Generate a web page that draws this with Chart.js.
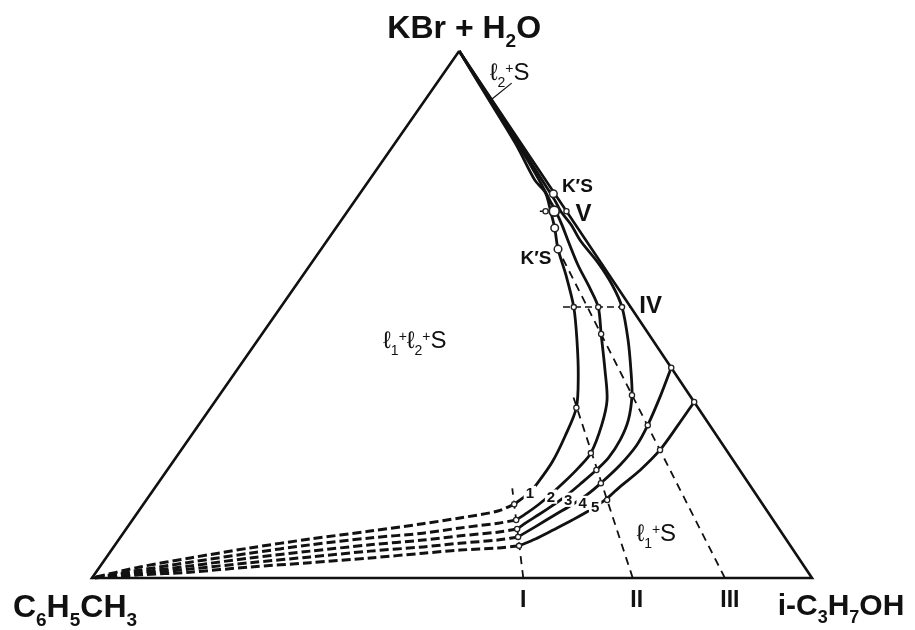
<!DOCTYPE html>
<html>
<head>
<meta charset="utf-8">
<script src="https://cdn.jsdelivr.net/npm/chart.js"></script>
<style>
  body { margin: 0; background: #fff; }
  #wrap { width: 915px; height: 630px; }
</style>
</head>
<body>
<div id="wrap"><canvas id="phase"></canvas></div>
<script>
// every point is a composition [i-C3H7OH %, KBr+H2O %]; toluene is the rest
const SKEW = 0.51; // the apex is drawn a little right of the base midpoint

const triangle = [[0, 100], [0, 0], [100, 0], [0, 100]];

// sections 1..5: solid part (measured) and dashed part (extrapolated to toluene)
const curve1 = [[0, 100], [8.3, 91.3], [17.0, 82.2], [23.0, 75.5], [25.7, 73.1], [28.2, 69.6], [30.4, 66.4],
  [32.9, 62.4], [36.5, 57.5], [40.7, 51.4], [44.3, 45.2], [47.9, 38.5], [50.8, 32.3], [52.0, 26.8],
  [52.7, 22.0], [52.7, 18.0], [52.5, 16.3], [52.1, 15.2], [51.5, 14.0]];
const curve1Dash = [[51.5, 14.0], [49.9, 12.7], [45.3, 11.4], [40.7, 10.3], [34.1, 8.9], [26.5, 7.4],
  [19.0, 5.7], [11.7, 3.8], [5.6, 2.1], [0, 0]];

const curve2 = [[0, 100], [8.5, 91.3], [17.3, 82.2], [23.6, 75.5], [27.0, 71.7], [28.9, 69.6], [31.1, 67.0],
  [33.4, 64.1], [37.2, 59.4], [41.1, 55.0], [44.1, 51.4], [47.1, 46.3], [51.1, 39.5], [54.3, 33.8],
  [56.0, 29.0], [57.2, 23.7], [56.9, 20.9], [56.3, 18.2], [55.6, 15.8], [54.9, 13.9], [54.1, 12.3], [53.3, 11.0]];
const curve2Dash = [[53.3, 11.0], [51.1, 10.4], [46.3, 9.5], [41.6, 8.5], [34.7, 7.6], [27.1, 6.3],
  [19.5, 4.7], [12.1, 3.0], [5.9, 1.5], [0, 0]];

const curve3 = [[0, 100], [8.6, 91.3], [17.5, 82.2], [24.0, 75.5], [27.7, 71.7], [29.6, 69.6], [32.4, 67.0],
  [35.1, 64.1], [39.8, 59.8], [43.9, 55.6], [47.4, 51.4], [51.4, 45.2], [54.7, 39.5], [57.3, 34.7],
  [59.2, 30.0], [60.0, 26.2], [60.1, 22.8], [59.6, 20.5], [58.7, 17.8], [57.9, 15.6], [56.9, 13.7],
  [55.9, 12.0], [55.0, 10.6], [54.3, 9.3]];
const curve3Dash = [[54.3, 9.3], [51.9, 8.7], [47.1, 8.0], [42.3, 7.2], [35.4, 6.3], [27.7, 5.1],
  [20.0, 3.8], [12.5, 2.3], [6.1, 1.1], [0, 0]];

const curve4 = [[60.1, 39.9], [61.3, 34.7], [62.4, 29.0], [62.8, 25.2], [62.4, 21.4], [61.5, 18.0],
  [60.7, 15.8], [59.6, 13.9], [58.2, 12.0], [56.6, 9.7], [55.2, 7.8]];
const curve4Dash = [[55.2, 7.8], [52.7, 7.2], [47.7, 6.6], [43.0, 5.9], [36.0, 5.1], [28.3, 4.0],
  [20.5, 2.9], [12.7, 1.7], [6.3, 0.8], [0, 0]];

const curve5 = [[66.6, 33.4], [66.6, 29.0], [66.5, 24.3], [65.7, 20.5], [64.5, 17.3], [63.8, 15.0],
  [62.6, 12.9], [61.1, 11.0], [59.4, 9.1], [57.8, 7.4], [56.2, 6.1]];
const curve5Dash = [[56.2, 6.1], [53.5, 5.7], [48.4, 5.3], [43.6, 4.7], [36.7, 3.8], [28.8, 2.9],
  [20.9, 2.1], [13.0, 1.1], [6.4, 0.6], [0, 0]];

// sections I, II, III (constant toluene : i-PrOH ratio)
const rayI = [[59.9, 0], [49.7, 17.0]];
const rayII = [[75.1, 0], [49.0, 34.8]];
const rayIII = [[87.9, 0], [32.9, 62.4]];

// tie lines IV and V
const tieIV = [[39.2, 51.4], [48.6, 51.4]];
const tieV = [[26.7, 69.6], [30.4, 69.6]];
const leader = [[10.4, 93.9], [9.2, 90.9]];

const smallPoints = [
  [51.5, 14.0], [53.3, 11.0], [54.3, 9.3], [55.2, 7.8], [56.2, 6.1],
  [50.8, 32.3], [57.2, 23.7], [59.6, 20.5], [61.5, 18.0], [64.0, 14.8],
  [47.1, 46.3], [57.3, 34.7], [62.4, 29.0], [66.5, 24.3],
  [40.7, 51.4], [44.1, 51.4], [47.4, 51.4],
  [60.1, 39.9], [66.6, 33.4],
  [27.5, 69.6], [30.4, 69.6]
];
const largePoints = [[26.9, 72.9], [30.4, 66.4], [32.9, 62.4]];
const pointV = [[28.7, 69.6]];

const FONT = '"Liberation Sans", Arial, sans-serif';
const bigLabels = [
  { parts: [['KBr + H'], ['2', 'sub'], ['O']], at: [0, 100], dx: 5, dy: -13, size: 32, bold: true },
  { parts: [['C'], ['6', 'sub'], ['H'], ['5', 'sub'], ['CH'], ['3', 'sub']], at: [0, 0], dx: -17, dy: 39, size: 32, bold: true },
  { parts: [['i-C'], ['3', 'sub'], ['H'], ['7', 'sub'], ['OH']], at: [100, 0], dx: 29, dy: 37, size: 30, bold: true },
  { parts: [['I']], at: [59.9, 0], dx: 0, dy: 29, size: 23, bold: true },
  { parts: [['II']], at: [75.1, 0], dx: 4, dy: 29, size: 23, bold: true },
  { parts: [['III']], at: [87.9, 0], dx: 5, dy: 29, size: 23, bold: true },
  { parts: [['IV']], at: [48.6, 51.4], dx: 20, dy: 6, size: 24, bold: true },
  { parts: [['V']], at: [30.4, 69.6], dx: 17, dy: 10, size: 24, bold: true },
  { parts: [['K\u2032S']], at: [26.9, 72.9], dx: 24, dy: -2, size: 19, bold: true },
  { parts: [['K\u2032S']], at: [32.9, 62.4], dx: -22, dy: 15, size: 19, bold: true },
  { parts: [['\u2113'], ['1', 'sub'], ['+', 'sup'], ['\u2113'], ['2', 'sub'], ['+', 'sup'], ['S']], at: [22.6, 43.6], dx: 0, dy: 0, size: 24 },
  { parts: [['\u2113'], ['2', 'sub'], ['+', 'sup'], ['S']], at: [10.4, 93.9], dx: -2, dy: -3, size: 24 },
  { parts: [['\u2113'], ['1', 'sub'], ['+', 'sup'], ['S']], at: [74.8, 7.0], dx: 0, dy: 0, size: 24 }
];
// numbers sit on the curves and cut a gap into them
const curveNumbers = ['1', '2', '3', '4', '5'];
const numberAt = [[52.5, 16.3], [55.8, 15.6], [58.5, 15.0], [60.8, 14.4], [62.9, 13.7]];

const toXY = ([p, k]) => ({ x: p + SKEW * k, y: k });

function line(data, width, dash, order, tension) {
  return {
    data: data.map(toXY), showLine: true, borderColor: '#111', borderWidth: width,
    borderDash: dash || [], pointRadius: 0, tension: tension || 0, clip: false, order: order
  };
}
function marks(data, r, bw) {
  return {
    data: data.map(toXY), showLine: false, pointRadius: r, pointBorderWidth: bw,
    pointBackgroundColor: '#fff', pointBorderColor: '#222', clip: false, order: 0
  };
}

function drawRich(ctx, parts, x, y, size, bold, boxed) {
  const font = s => `${bold ? 'bold' : 'normal'} ${s}px ${FONT}`;
  let w = 0;
  const runs = parts.map(([t, m]) => {
    const s = m ? Math.round(size * 0.6) : size;
    ctx.font = font(s);
    const rw = ctx.measureText(t).width;
    w += rw;
    return { t, s, w: rw, off: m === 'sub' ? size * 0.28 : m === 'sup' ? -size * 0.3 : 0 };
  });
  let cx = x - w / 2;
  if (boxed) {
    ctx.fillStyle = '#fff';
    ctx.fillRect(cx - 2, y - size * 0.82, w + 4, size * 0.95);
  }
  ctx.fillStyle = '#111';
  runs.forEach(r => {
    ctx.font = font(r.s);
    ctx.fillText(r.t, cx, y + r.off);
    cx += r.w;
  });
}

const textPlugin = {
  id: 'ternaryText',
  afterDatasetsDraw(chart) {
    const { ctx, scales } = chart;
    const px = c => { const q = toXY(c); return [scales.x.getPixelForValue(q.x), scales.y.getPixelForValue(q.y)]; };
    ctx.save();
    ctx.textAlign = 'left';
    ctx.textBaseline = 'alphabetic';
    bigLabels.forEach(l => {
      const [x, y] = px(l.at);
      drawRich(ctx, l.parts, x + l.dx, y + l.dy, l.size, l.bold, false);
    });
    curveNumbers.forEach((n, i) => {
      const [x, y] = px(numberAt[i]);
      drawRich(ctx, [[n]], x, y + 6, 15, true, true);
    });
    ctx.restore();
  }
};

const SMOOTH = 0.3;
new Chart(document.getElementById('phase'), {
  type: 'scatter',
  data: {
    datasets: [
      marks(smallPoints, 2.6, 1.3),
      marks(largePoints, 3.8, 1.5),
      marks(pointV, 5, 1.8),
      line(triangle, 2.6, null, 2),
      line(curve1, 2.8, null, 2, SMOOTH),
      line(curve2, 2.8, null, 2, SMOOTH),
      line(curve3, 2.8, null, 2, SMOOTH),
      line(curve4, 2.8, null, 2, SMOOTH),
      line(curve5, 2.8, null, 2, SMOOTH),
      line(curve1Dash, 3, [9, 4], 3, SMOOTH),
      line(curve2Dash, 3, [9, 4], 3, SMOOTH),
      line(curve3Dash, 3, [9, 4], 3, SMOOTH),
      line(curve4Dash, 3, [9, 4], 3, SMOOTH),
      line(curve5Dash, 3, [9, 4], 3, SMOOTH),
      line(rayI, 1.8, [8, 6], 4),
      line(rayII, 1.8, [8, 6], 4),
      line(rayIII, 1.8, [8, 6], 4),
      line(tieIV, 1.5, [7, 4], 4),
      line(tieV, 1.5, [5, 3], 4),
      line(leader, 1.2, null, 4)
    ]
  },
  options: {
    responsive: true,
    maintainAspectRatio: false,
    animation: false,
    events: [],
    layout: { padding: { left: 92, right: 103, top: 51, bottom: 52 } },
    elements: { line: { capBezierPoints: false, borderJoinStyle: 'miter' } },
    scales: {
      x: { type: 'linear', min: 0, max: 100, display: false },
      y: { type: 'linear', min: 0, max: 100, display: false }
    },
    plugins: { legend: { display: false }, tooltip: { enabled: false } }
  },
  plugins: [textPlugin]
});
</script>
</body>
</html>
